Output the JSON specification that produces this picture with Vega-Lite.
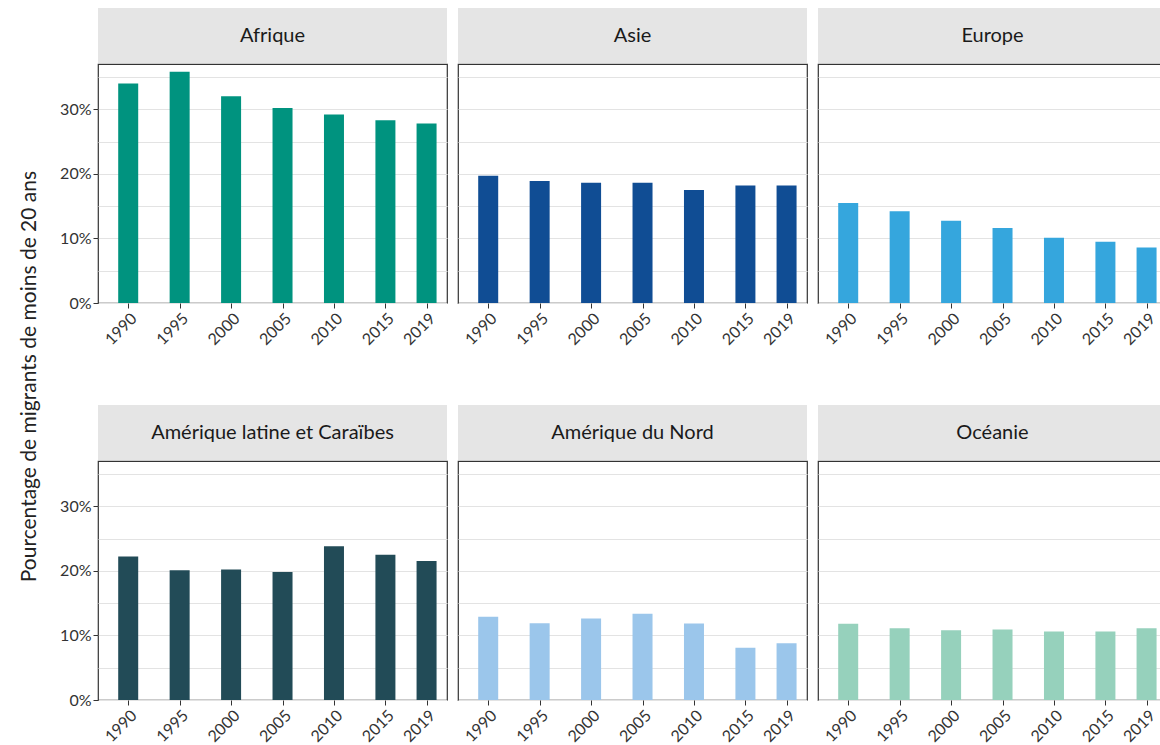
{
  "$schema": "https://vega.github.io/schema/vega-lite/v6.json",
  "padding": {"left": 19, "top": 8, "right": 0, "bottom": 0},
  "background": "white",
  "title": {"text": "Pourcentage de migrants de moins de 20 ans", "orient": "left", "anchor": "middle", "fontSize": 21, "font": "Lato", "fontWeight": "normal", "color": "#222222", "offset": 19},
  "config": {
    "font": "Lato",
    "view": {"stroke": "#333333", "strokeWidth": 1.2},
    "axis": {"labelFont": "Lato", "labelFontSize": 16, "labelColor": "#333333", "tickColor": "#333333", "tickSize": 5, "domain": false, "gridColor": "#e3e3e3", "gridWidth": 1, "title": null},
    "text": {"font": "Lato"}
  },
  "datasets": {
    "d": [
      {"region": "Afrique", "year": 1990, "pct": 34.0},
      {"region": "Afrique", "year": 1995, "pct": 35.8},
      {"region": "Afrique", "year": 2000, "pct": 32.0},
      {"region": "Afrique", "year": 2005, "pct": 30.2},
      {"region": "Afrique", "year": 2010, "pct": 29.2},
      {"region": "Afrique", "year": 2015, "pct": 28.3},
      {"region": "Afrique", "year": 2019, "pct": 27.8},
      {"region": "Asie", "year": 1990, "pct": 19.7},
      {"region": "Asie", "year": 1995, "pct": 18.9},
      {"region": "Asie", "year": 2000, "pct": 18.6},
      {"region": "Asie", "year": 2005, "pct": 18.6},
      {"region": "Asie", "year": 2010, "pct": 17.5},
      {"region": "Asie", "year": 2015, "pct": 18.2},
      {"region": "Asie", "year": 2019, "pct": 18.2},
      {"region": "Europe", "year": 1990, "pct": 15.5},
      {"region": "Europe", "year": 1995, "pct": 14.2},
      {"region": "Europe", "year": 2000, "pct": 12.75},
      {"region": "Europe", "year": 2005, "pct": 11.6},
      {"region": "Europe", "year": 2010, "pct": 10.1},
      {"region": "Europe", "year": 2015, "pct": 9.5},
      {"region": "Europe", "year": 2019, "pct": 8.6},
      {"region": "Amérique latine et Caraïbes", "year": 1990, "pct": 22.2},
      {"region": "Amérique latine et Caraïbes", "year": 1995, "pct": 20.1},
      {"region": "Amérique latine et Caraïbes", "year": 2000, "pct": 20.2},
      {"region": "Amérique latine et Caraïbes", "year": 2005, "pct": 19.8},
      {"region": "Amérique latine et Caraïbes", "year": 2010, "pct": 23.8},
      {"region": "Amérique latine et Caraïbes", "year": 2015, "pct": 22.5},
      {"region": "Amérique latine et Caraïbes", "year": 2019, "pct": 21.5},
      {"region": "Amérique du Nord", "year": 1990, "pct": 12.9},
      {"region": "Amérique du Nord", "year": 1995, "pct": 11.9},
      {"region": "Amérique du Nord", "year": 2000, "pct": 12.6},
      {"region": "Amérique du Nord", "year": 2005, "pct": 13.35},
      {"region": "Amérique du Nord", "year": 2010, "pct": 11.85},
      {"region": "Amérique du Nord", "year": 2015, "pct": 8.1},
      {"region": "Amérique du Nord", "year": 2019, "pct": 8.8},
      {"region": "Océanie", "year": 1990, "pct": 11.8},
      {"region": "Océanie", "year": 1995, "pct": 11.1},
      {"region": "Océanie", "year": 2000, "pct": 10.8},
      {"region": "Océanie", "year": 2005, "pct": 10.9},
      {"region": "Océanie", "year": 2010, "pct": 10.6},
      {"region": "Océanie", "year": 2015, "pct": 10.6},
      {"region": "Océanie", "year": 2019, "pct": 11.1}
    ]
  },
  "vconcat": [
    {
      "hconcat": [
        {"vconcat": [
          {"width": 349, "height": 55, "view": {"fill": "#e5e5e5"}, "data": {"values": [{"region": "Afrique"}]}, "mark": {"type": "text", "fontSize": 20, "color": "#1a1a1a"}, "encoding": {"text": {"field": "region"}}},
          {"width": 349, "height": 239, "data": {"name": "d"}, "transform": [{"filter": "datum.region === 'Afrique'"}],
           "mark": {"type": "bar", "width": 20, "color": "#00937f"},
           "encoding": {
             "x": {"field": "year", "type": "quantitative", "scale": {"domain": [1987.55, 2020.5], "nice": false, "zero": false}, "axis": {"values": [1990, 1995, 2000, 2005, 2010, 2015, 2019], "format": "d", "labelAngle": -45, "grid": false}},
             "y": {"field": "pct", "type": "quantitative", "scale": {"domain": [0, 37], "nice": false}, "axis": {"values": [0, 5, 10, 15, 20, 25, 30, 35], "labelExpr": "datum.value % 10 === 0 ? datum.value + '%' : ''", "tickOpacity": {"condition": {"test": "datum.value % 10 === 0", "value": 1}, "value": 0}, "grid": true}}
           }}
        ], "spacing": 0},
        {"vconcat": [
          {"width": 349, "height": 55, "view": {"fill": "#e5e5e5"}, "data": {"values": [{"region": "Asie"}]}, "mark": {"type": "text", "fontSize": 20, "color": "#1a1a1a"}, "encoding": {"text": {"field": "region"}}},
          {"width": 349, "height": 239, "data": {"name": "d"}, "transform": [{"filter": "datum.region === 'Asie'"}],
           "mark": {"type": "bar", "width": 20, "color": "#104d94"},
           "encoding": {
             "x": {"field": "year", "type": "quantitative", "scale": {"domain": [1987.55, 2020.5], "nice": false, "zero": false}, "axis": {"values": [1990, 1995, 2000, 2005, 2010, 2015, 2019], "format": "d", "labelAngle": -45, "grid": false}},
             "y": {"field": "pct", "type": "quantitative", "scale": {"domain": [0, 37], "nice": false}, "axis": {"values": [0, 5, 10, 15, 20, 25, 30, 35], "labels": false, "ticks": false, "grid": true}}
           }}
        ], "spacing": 0},
        {"vconcat": [
          {"width": 349, "height": 55, "view": {"fill": "#e5e5e5"}, "data": {"values": [{"region": "Europe"}]}, "mark": {"type": "text", "fontSize": 20, "color": "#1a1a1a"}, "encoding": {"text": {"field": "region"}}},
          {"width": 349, "height": 239, "data": {"name": "d"}, "transform": [{"filter": "datum.region === 'Europe'"}],
           "mark": {"type": "bar", "width": 20, "color": "#35a6dd"},
           "encoding": {
             "x": {"field": "year", "type": "quantitative", "scale": {"domain": [1987.55, 2020.5], "nice": false, "zero": false}, "axis": {"values": [1990, 1995, 2000, 2005, 2010, 2015, 2019], "format": "d", "labelAngle": -45, "grid": false}},
             "y": {"field": "pct", "type": "quantitative", "scale": {"domain": [0, 37], "nice": false}, "axis": {"values": [0, 5, 10, 15, 20, 25, 30, 35], "labels": false, "ticks": false, "grid": true}}
           }}
        ], "spacing": 0}
      ],
      "spacing": 9
    },
    {
      "hconcat": [
        {"vconcat": [
          {"width": 349, "height": 55, "view": {"fill": "#e5e5e5"}, "data": {"values": [{"region": "Amérique latine et Caraïbes"}]}, "mark": {"type": "text", "fontSize": 20, "color": "#1a1a1a"}, "encoding": {"text": {"field": "region"}}},
          {"width": 349, "height": 239, "data": {"name": "d"}, "transform": [{"filter": "datum.region === 'Amérique latine et Caraïbes'"}],
           "mark": {"type": "bar", "width": 20, "color": "#224b57"},
           "encoding": {
             "x": {"field": "year", "type": "quantitative", "scale": {"domain": [1987.55, 2020.5], "nice": false, "zero": false}, "axis": {"values": [1990, 1995, 2000, 2005, 2010, 2015, 2019], "format": "d", "labelAngle": -45, "grid": false}},
             "y": {"field": "pct", "type": "quantitative", "scale": {"domain": [0, 37], "nice": false}, "axis": {"values": [0, 5, 10, 15, 20, 25, 30, 35], "labelExpr": "datum.value % 10 === 0 ? datum.value + '%' : ''", "tickOpacity": {"condition": {"test": "datum.value % 10 === 0", "value": 1}, "value": 0}, "grid": true}}
           }}
        ], "spacing": 0},
        {"vconcat": [
          {"width": 349, "height": 55, "view": {"fill": "#e5e5e5"}, "data": {"values": [{"region": "Amérique du Nord"}]}, "mark": {"type": "text", "fontSize": 20, "color": "#1a1a1a"}, "encoding": {"text": {"field": "region"}}},
          {"width": 349, "height": 239, "data": {"name": "d"}, "transform": [{"filter": "datum.region === 'Amérique du Nord'"}],
           "mark": {"type": "bar", "width": 20, "color": "#9bc6eb"},
           "encoding": {
             "x": {"field": "year", "type": "quantitative", "scale": {"domain": [1987.55, 2020.5], "nice": false, "zero": false}, "axis": {"values": [1990, 1995, 2000, 2005, 2010, 2015, 2019], "format": "d", "labelAngle": -45, "grid": false}},
             "y": {"field": "pct", "type": "quantitative", "scale": {"domain": [0, 37], "nice": false}, "axis": {"values": [0, 5, 10, 15, 20, 25, 30, 35], "labels": false, "ticks": false, "grid": true}}
           }}
        ], "spacing": 0},
        {"vconcat": [
          {"width": 349, "height": 55, "view": {"fill": "#e5e5e5"}, "data": {"values": [{"region": "Océanie"}]}, "mark": {"type": "text", "fontSize": 20, "color": "#1a1a1a"}, "encoding": {"text": {"field": "region"}}},
          {"width": 349, "height": 239, "data": {"name": "d"}, "transform": [{"filter": "datum.region === 'Océanie'"}],
           "mark": {"type": "bar", "width": 20, "color": "#96d1bc"},
           "encoding": {
             "x": {"field": "year", "type": "quantitative", "scale": {"domain": [1987.55, 2020.5], "nice": false, "zero": false}, "axis": {"values": [1990, 1995, 2000, 2005, 2010, 2015, 2019], "format": "d", "labelAngle": -45, "grid": false}},
             "y": {"field": "pct", "type": "quantitative", "scale": {"domain": [0, 37], "nice": false}, "axis": {"values": [0, 5, 10, 15, 20, 25, 30, 35], "labels": false, "ticks": false, "grid": true}}
           }}
        ], "spacing": 0}
      ],
      "spacing": 9
    }
  ],
  "spacing": 56
}
